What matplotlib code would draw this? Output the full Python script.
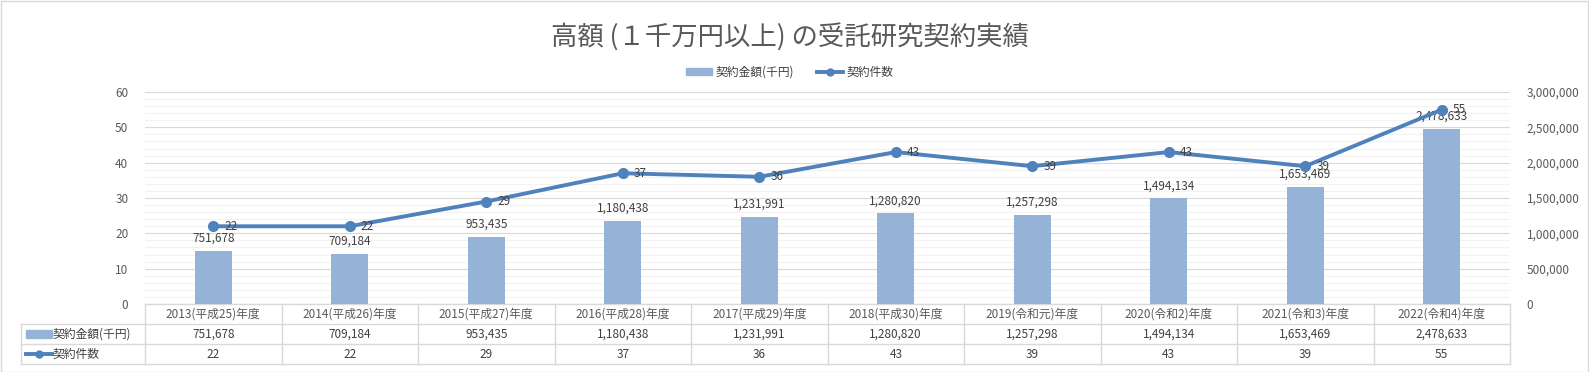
import matplotlib
matplotlib.use("Agg")
import matplotlib.pyplot as plt
import matplotlib.ticker as mticker
from matplotlib.patches import Rectangle
from matplotlib.lines import Line2D

plt.rcParams['font.family'] = ['Noto Sans CJK JP', 'DejaVu Sans']

years = ['2013(平成25)年度', '2014(平成26)年度', '2015(平成27)年度',
         '2016(平成28)年度', '2017(平成29)年度', '2018(平成30)年度',
         '2019(令和元)年度', '2020(令和2)年度', '2021(令和3)年度',
         '2022(令和4)年度']
amount = [751678, 709184, 953435, 1180438, 1231991, 1280820,
          1257298, 1494134, 1653469, 2478633]
count = [22, 22, 29, 37, 36, 43, 39, 43, 39, 55]
title = '高額 (１千万円以上) の受託研究契約実績'
name_amount = '契約金額(千円)'
name_count = '契約件数'

BAR = '#95B3D7'
LINE = '#4F81BD'
TXT = '#595959'
LAB = '#404040'
GRID = '#D9D9D9'
MINOR = '#F2F2F2'

W, H = 1589, 372
fig = plt.figure(figsize=(W / 100, H / 100), dpi=100)
fig.patches.append(Rectangle((0.5 / W, 0.5 / H), 1 - 1.5 / W, 1 - 1.5 / H,
                             transform=fig.transFigure, fill=False,
                             edgecolor=GRID, lw=1))

L, R, T, B = 145, 1510, 92, 304
ax = fig.add_axes([L / W, 1 - B / H, (R - L) / W, (B - T) / H])
axr = ax.twinx()
# bars behind line
axr.set_zorder(1)
ax.set_zorder(2)
ax.patch.set_visible(False)

x = list(range(len(years)))
axr.bar(x, amount, width=0.27, color=BAR, zorder=3)
axr.set_ylim(0, 3000000)
axr.yaxis.set_major_locator(mticker.MultipleLocator(500000))
axr.yaxis.set_minor_locator(mticker.MultipleLocator(100000))
axr.yaxis.set_major_formatter(mticker.FuncFormatter(lambda v, p: '{:,.0f}'.format(v)))
axr.grid(True, which='major', axis='y', color=GRID, lw=0.8, zorder=0)
axr.grid(True, which='minor', axis='y', color=MINOR, lw=0.8, zorder=0)
axr.set_axisbelow(True)
for xi, v in zip(x, amount):
    axr.annotate('{:,}'.format(v), (xi, v), xytext=(0, 4.5), textcoords='offset points',
                 ha='center', va='bottom', fontsize=8.5, color=LAB)

ax.plot(x, count, color=LINE, lw=2.8, marker='o', markersize=7, zorder=5)
ax.set_ylim(0, 60)
ax.set_xlim(-0.5, len(years) - 0.5)
ax.yaxis.set_major_locator(mticker.MultipleLocator(10))
for xi, v in zip(x, count):
    ax.annotate(str(v), (xi, v), xytext=(8, 0), textcoords='offset points',
                ha='left', va='center', fontsize=8.5, color=LAB, zorder=6)

for a in (ax, axr):
    for s in a.spines.values():
        s.set_visible(False)
    a.tick_params(axis='both', which='both', length=0, labelsize=8.5, labelcolor=TXT)
    a.set_xticks([])
ax.tick_params(axis='y', pad=12)
axr.tick_params(axis='y', pad=12)

# data table
tab = fig.add_axes([L / W, (H - 364) / H, (R - L) / W, 60 / H])
tab.set_xlim(-0.5, len(years) - 0.5)
tab.set_ylim(3, 0)
tab.axis('off')
cw = (R - L) / len(years)


def px(p):
    return -0.5 + (p - L) / cw


xl = px(21)
kw = dict(color=GRID, lw=1, clip_on=False)
tab.plot([-0.5, len(years) - 0.5], [0, 0], **kw)
for r in (1, 2, 3):
    tab.plot([xl, len(years) - 0.5], [r, r], **kw)
for i in range(len(years) + 1):
    tab.plot([i - 0.5, i - 0.5], [0, 3], **kw)
tab.plot([xl, xl], [1, 3], **kw)

for i, (yr, a, c) in enumerate(zip(years, amount, count)):
    tab.text(i, 0.5, yr, ha='center', va='center', fontsize=8.5, color=TXT)
    tab.text(i, 1.5, '{:,}'.format(a), ha='center', va='center', fontsize=8.5, color=LAB)
    tab.text(i, 2.5, str(c), ha='center', va='center', fontsize=8.5, color=LAB)

tab.add_patch(Rectangle((px(26), 1.32), px(52) - px(26), 0.36, color=BAR, clip_on=False))
tab.plot([px(26), px(52)], [2.5, 2.5], color=LINE, lw=2.8, clip_on=False)
tab.plot([(px(26) + px(52)) / 2], [2.5], color=LINE, marker='o', markersize=5, clip_on=False)
tab.text(px(53), 1.5, name_amount, ha='left', va='center', fontsize=8.5, color=LAB)
tab.text(px(53), 2.5, name_count, ha='left', va='center', fontsize=8.5, color=LAB)

fig.text(0.497, 1 - 37 / H, title, ha='center', va='center', fontsize=19, color=TXT)

handles = [Rectangle((0, 0), 1, 1, color=BAR),
           Line2D([], [], color=LINE, lw=2.8, marker='o', markersize=5)]
fig.legend(handles, [name_amount, name_count], loc='center', ncol=2,
           bbox_to_anchor=(0.497, 1 - 72 / H), frameon=False, fontsize=8.5,
           labelcolor=LAB, handlelength=2.2, handleheight=0.5, handletextpad=0.3,
           columnspacing=2.0)

fig.savefig('out.png', dpi=100)
